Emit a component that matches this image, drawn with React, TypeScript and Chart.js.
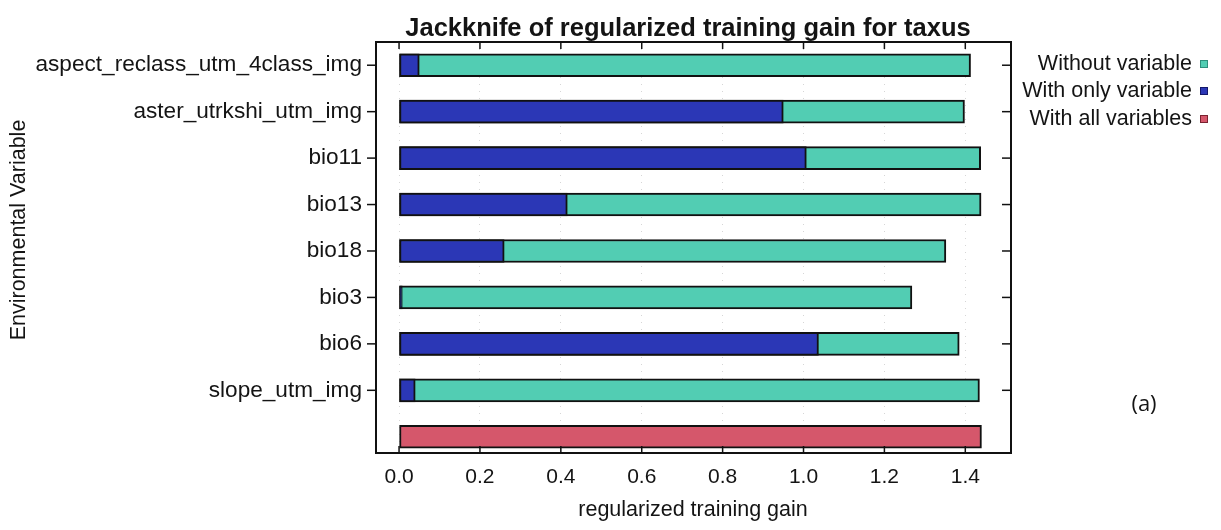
import React, { useEffect, useRef } from 'react';
import { Chart, registerables } from 'chart.js';

Chart.register(...registerables);

// ---- data ----
const categories = [
  'aspect_reclass_utm_4class_img',
  'aster_utrkshi_utm_img',
  'bio11',
  'bio13',
  'bio18',
  'bio3',
  'bio6',
  'slope_utm_img',
  '',
];
const withoutVariable = [1.413, 1.398, 1.438, 1.439, 1.352, 1.268, 1.385, 1.435, null];
const withOnlyVariable = [0.05, 0.95, 1.007, 0.416, 0.26, 0.008, 1.037, 0.04, null];
const withAllVariables = [null, null, null, null, null, null, null, null, 1.44];
const xTickValues = [0, 0.2, 0.4, 0.6, 0.8, 1.0, 1.2, 1.4];
const legendLabels = ['Without variable', 'With only variable', 'With all variables'];
const chartTitle = 'Jackknife of regularized training gain for taxus';
const xTitle = 'regularized training gain';
const yTitle = 'Environmental Variable';
const panelTag = '(a)';

// ---- styles ----
const seriesColors = ['#52cdb3', '#2b37b6', '#d5576b'];
const legendBorders = ['#2f8f7c', '#14186a', '#7a2230'];
const FONT = "'Liberation Sans', Arial, sans-serif";
const TEXT = '#141414';

const toPoints = (arr: (number | null)[]) => arr.map((v, i) => ({ x: v, y: i }));
const labeledRows = categories.map((c, i) => (c ? i : -1)).filter((i) => i >= 0);

const decorPlugin = {
  id: 'decor',
  afterDraw(chart: any) {
    const { ctx, chartArea: a, scales } = chart;
    const xs = scales.x;
    const ys = scales.y;
    const line = (x1: number, y1: number, x2: number, y2: number) => {
      ctx.beginPath();
      ctx.moveTo(x1, y1);
      ctx.lineTo(x2, y2);
      ctx.stroke();
    };
    ctx.save();
    ctx.strokeStyle = '#111';
    ctx.lineWidth = 2;
    ctx.strokeRect(a.left, a.top, a.right - a.left, a.bottom - a.top);
    ctx.lineWidth = 1.5;
    xTickValues.forEach((v) => {
      const px = xs.getPixelForValue(v);
      line(px, a.bottom, px, a.bottom - 7);
      line(px, a.top, px, a.top + 7);
    });
    labeledRows.forEach((i) => {
      const py = ys.getPixelForValue(i);
      line(a.left - 9, py, a.left, py);
      line(a.right - 9, py, a.right, py);
    });

    ctx.fillStyle = TEXT;
    ctx.textAlign = 'center';
    ctx.textBaseline = 'middle';
    ctx.font = `bold 25.5px ${FONT}`;
    ctx.fillText(chartTitle, 688, 29);

    ctx.font = `21.5px ${FONT}`;
    ctx.fillText(xTitle, 693, 510);

    ctx.save();
    ctx.translate(19, 230);
    ctx.rotate(-Math.PI / 2);
    ctx.font = `21.5px ${FONT}`;
    ctx.fillText(yTitle, 0, 0);
    ctx.restore();

    // legend
    const rows = [64, 91, 119];
    ctx.textAlign = 'right';
    ctx.font = `21.5px ${FONT}`;
    legendLabels.forEach((t, i) => {
      ctx.fillStyle = TEXT;
      ctx.fillText(t, 1192, rows[i]);
      ctx.fillStyle = seriesColors[i];
      ctx.fillRect(1200, rows[i] - 4, 8, 8);
      ctx.strokeStyle = legendBorders[i];
      ctx.lineWidth = 1;
      ctx.strokeRect(1200.5, rows[i] - 3.5, 7, 7);
    });

    ctx.fillStyle = TEXT;
    ctx.textAlign = 'center';
    ctx.font = `22px 'Open Sans', 'Noto Sans', sans-serif`;
    ctx.fillText(panelTag, 1144, 405);
    ctx.restore();
  },
};

export default function App() {
  const ref = useRef<HTMLCanvasElement | null>(null);
  useEffect(() => {
    if (!ref.current) return;
    const barCommon = {
      grouped: false,
      barThickness: 23,
      borderColor: '#111',
      borderWidth: 2,
      borderSkipped: false as const,
    };
    const chart = new Chart(ref.current, {
      type: 'bar',
      data: {
        datasets: [
          { label: legendLabels[0], data: toPoints(withoutVariable), backgroundColor: seriesColors[0], order: 2, ...barCommon },
          { label: legendLabels[1], data: toPoints(withOnlyVariable), backgroundColor: seriesColors[1], order: 1, ...barCommon },
          { label: legendLabels[2], data: toPoints(withAllVariables), backgroundColor: seriesColors[2], order: 0, ...barCommon },
        ],
      },
      options: {
        indexAxis: 'y',
        animation: false,
        responsive: false,
        maintainAspectRatio: false,
        layout: { padding: { left: 0, right: 210, top: 42, bottom: 0 } },
        plugins: {
          legend: { display: false },
          title: { display: false },
          tooltip: { enabled: false },
        },
        scales: {
          x: {
            type: 'linear',
            position: 'bottom',
            min: -0.057,
            max: 1.513,
            offset: false,
            afterBuildTicks: (s: any) => {
              s.ticks = xTickValues.map((v) => ({ value: v }));
            },
            afterFit: (s: any) => {
              s.height = 77;
            },
            grid: {
              display: true,
              drawTicks: false,
              color: 'rgba(0,0,0,0.16)',
              lineWidth: 1,
            },
            border: { display: false, dash: [1, 6] },
            ticks: {
              padding: 12,
              color: TEXT,
              font: { family: FONT, size: 21 },
              callback: (v: any) => Number(v).toFixed(1),
            },
          },
          y: {
            type: 'linear',
            position: 'left',
            reverse: true,
            offset: false,
            min: -0.5,
            max: 8.35,
            afterBuildTicks: (s: any) => {
              s.ticks = labeledRows.map((v) => ({ value: v }));
            },
            afterFit: (s: any) => {
              s.width = 376;
            },
            grid: { display: false, drawTicks: false, offset: false },
            border: { display: false },
            ticks: {
              padding: 14,
              color: TEXT,
              font: { family: FONT, size: 22.6 },
              callback: (v: any) => categories[Math.round(Number(v))] ?? '',
            },
          },
        },
      },
      plugins: [decorPlugin],
    } as any);
    return () => chart.destroy();
  }, []);
  return (
    <div style={{ position: 'fixed', left: 0, top: 0, width: 1221, height: 530, background: '#fff' }}>
      <canvas ref={ref} width={1221} height={530} style={{ display: 'block' }} />
    </div>
  );
}
